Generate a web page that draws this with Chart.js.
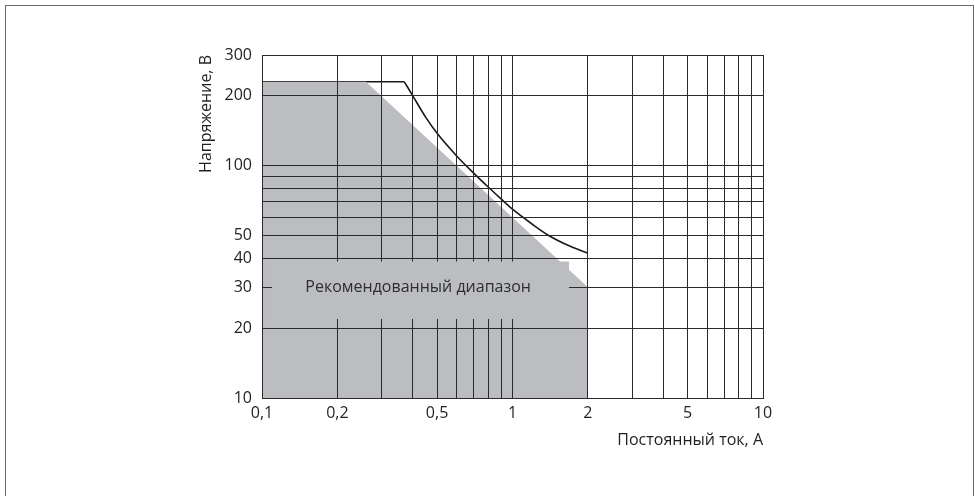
<!DOCTYPE html>
<html><head><meta charset="utf-8">
<script src="https://cdn.jsdelivr.net/npm/chart.js@4/dist/chart.umd.min.js"></script>
<style>
html,body{margin:0;padding:0;background:#fff;}
#wrap{position:relative;width:975px;height:496px;}
#frame{position:absolute;left:5px;top:5px;width:969px;height:495px;border:1.6px solid #6a6a6a;border-bottom:none;box-sizing:border-box;pointer-events:none;}
</style></head><body>
<div id="wrap"><canvas id="c"></canvas><div id="frame"></div></div>
<script>
// ---- data ----
const xTicks = [0.1,0.2,0.3,0.4,0.5,0.6,0.7,0.8,0.9,1,2,3,4,5,6,7,8,9,10];
const xLabelTicks = [0.1,0.2,0.5,1,2,5,10];
const yTicks = [10,20,30,40,50,60,70,80,90,100,200,300];
const yLabelTicks = [10,20,30,40,50,100,200,300];
// limit curve (DC current, A / voltage, V)
const limitCurrent = [0.1,0.37,0.4,0.45,0.5,0.6,0.7,0.8,0.9,1,1.2,1.4,1.7,2];
const limitVoltage = [230,230,200,162,138,110,93,81,72,65,56,50,45,42];
// recommended zone upper boundary
const zoneCurrent = [0.1,0.26,2];
const zoneVoltage = [230,230,30];
const zoneLabel = 'Рекомендованный диапазон';
const xTitle = 'Постоянный ток, А';
const yTitle = 'Напряжение, В';

const SHADE = '#bcbdc0';
const GRID = '#2a2a2a';
const FONT = "'Open Sans', sans-serif";
const INK = '#231f20';

const pts = (xs, ys) => xs.map((x,i)=>({x, y: ys[i]}));
const limitPts = pts(limitCurrent, limitVoltage);

const labelPlugin = {
  id: 'zoneLabel',
  afterDraw(chart) {
    const {ctx, scales:{x, y}} = chart;
    const x1 = x.getPixelForValue(0.1096), x2 = x.getPixelForValue(1.68);
    const y1 = y.getPixelForValue(38.7), y2 = y.getPixelForValue(21.9);
    ctx.save();
    ctx.fillStyle = SHADE;
    ctx.fillRect(x1, y1, x2 - x1, y2 - y1);
    ctx.fillStyle = '#2e2e2e';
    ctx.font = "16px " + FONT;
    ctx.textAlign = 'center';
    ctx.textBaseline = 'middle';
    ctx.fillText(zoneLabel, x.getPixelForValue(0.42), y.getPixelForValue(30));
    ctx.restore();
  }
};

new Chart(document.getElementById('c'), {
  type: 'line',
  data: {
    datasets: [
      { data: pts(zoneCurrent, zoneVoltage), borderWidth: 0, borderColor: 'rgba(0,0,0,0)',
        backgroundColor: SHADE, fill: 'start', pointRadius: 0, tension: 0 },
      { data: limitPts.slice(0,2), borderColor: '#1a1a1a', borderWidth: 1.6, fill: false, pointRadius: 0, tension: 0 },
      { data: limitPts.slice(1), borderColor: '#1a1a1a', borderWidth: 1.6, fill: false, pointRadius: 0,
        cubicInterpolationMode: 'monotone' }
    ]
  },
  options: {
    responsive: true, maintainAspectRatio: false, animation: false,
    layout: { padding: { left: 190, top: 55, right: 212, bottom: 40 } },
    plugins: { legend: { display: false }, tooltip: { enabled: false } },
    scales: {
      x: {
        type: 'logarithmic', min: 0.1, max: 10, z: 1,
        afterBuildTicks: s => { s.ticks = xTicks.map(v => ({value: v})); },
        afterFit: s => { s.height = 58; },
        grid: { color: GRID, lineWidth: 1, drawTicks: false, z: 1 },
        border: { color: GRID, width: 1, z: 1 },
        ticks: { autoSkip: false, maxRotation: 0, padding: 6, color: INK,
          font: { family: FONT, size: 16 },
          callback: v => xLabelTicks.includes(v) ? String(v).replace('.', ',') : '' },
        title: { display: true, text: xTitle, align: 'end', color: INK,
          font: { family: FONT, size: 16 }, padding: { top: 0, bottom: 6 } }
      },
      y: {
        type: 'logarithmic', min: 10, max: 300, z: 1,
        afterBuildTicks: s => { s.ticks = yTicks.map(v => ({value: v})); },
        afterFit: s => { s.width = 72; },
        grid: { color: GRID, lineWidth: 1, drawTicks: false, z: 1 },
        border: { color: GRID, width: 1, z: 1 },
        ticks: { autoSkip: false, padding: 10, color: INK,
          font: { family: FONT, size: 16 },
          callback: v => yLabelTicks.includes(v) ? String(v) : '' },
        title: { display: true, text: yTitle, align: 'end', color: INK,
          font: { family: FONT, size: 16 }, padding: { top: 7, bottom: 0 } }
      }
    }
  },
  plugins: [labelPlugin]
});
</script>
</body></html>
